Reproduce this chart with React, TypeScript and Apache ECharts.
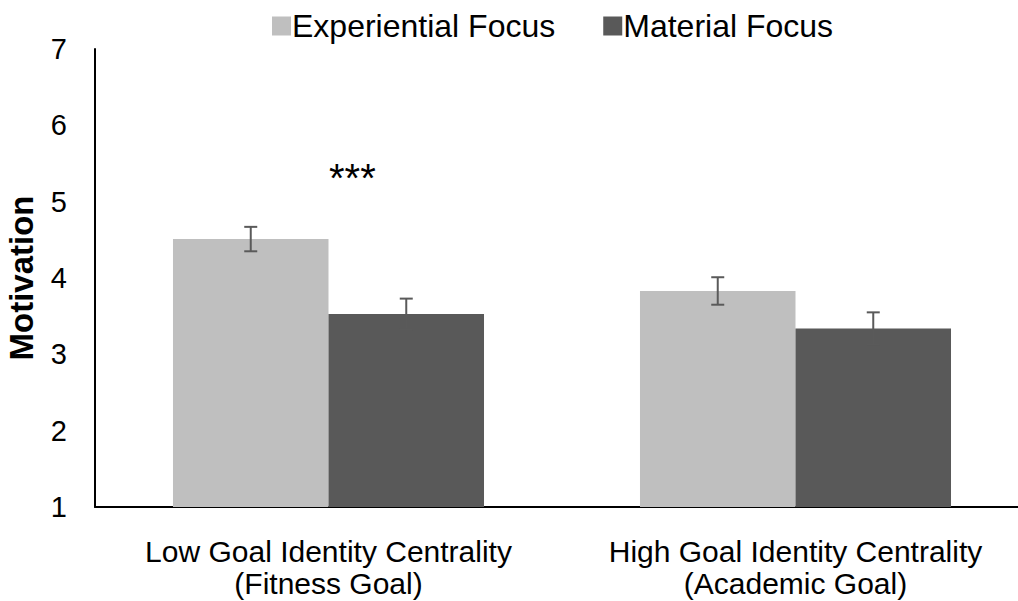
import React, { useEffect, useRef } from "react";
import * as echarts from "echarts";

const categories = [
  "Low Goal Identity Centrality\n(Fitness Goal)",
  "High Goal Identity Centrality\n(Academic Goal)",
];
const seriesNames = ["Experiential Focus", "Material Focus"];
const experiential = [4.51, 3.83];
const material = [3.53, 3.34];
const experientialErr = [0.16, 0.18];
const materialErr = [0.2, 0.21];
const yTicks = [1, 2, 3, 4, 5, 6, 7];
const significance = "***";

const FONT = "Liberation Sans";
const BAR_GAP_CAT = 0.334;

export default function App() {
  const ref = useRef<HTMLDivElement>(null);
  useEffect(() => {
    if (!ref.current) return;
    const chart = echarts.init(ref.current, null, { renderer: "svg" });
    const errData: number[][] = [];
    experiential.forEach((v, i) => errData.push([i, v, experientialErr[i], -1]));
    material.forEach((v, i) => errData.push([i, v, materialErr[i], 1]));
    const barFrac = (1 - BAR_GAP_CAT) / 4;
    chart.setOption({
      animation: false,
      textStyle: { fontFamily: FONT },
      legend: {
        top: 5,
        left: 267,
        itemWidth: 19,
        itemHeight: 19,
        itemGap: 48,
        icon: "rect",
        textStyle: { fontSize: 32, color: "#000", fontFamily: FONT, padding: [0, 0, 0, -4] },
        data: seriesNames,
      },
      grid: {
        left: 95,
        top: 49,
        height: 458,
        width: 934,
        containLabel: false,
        outerBoundsMode: "none",
      },
      xAxis: {
        type: "category",
        data: categories,
        axisLine: { lineStyle: { color: "#000", width: 2 } },
        axisTick: { show: false },
        axisLabel: {
          fontSize: 30,
          color: "#000",
          fontFamily: FONT,
          lineHeight: 32,
          margin: 28,
          interval: 0,
        },
      },
      yAxis: {
        type: "value",
        min: yTicks[0],
        max: yTicks[yTicks.length - 1],
        interval: 1,
        name: "Motivation",
        nameLocation: "middle",
        nameGap: 57,
        nameTextStyle: { fontSize: 33, fontWeight: "bold", color: "#000", fontFamily: FONT },
        axisLine: { show: true, lineStyle: { color: "#000", width: 2 } },
        axisTick: { show: false },
        splitLine: { show: false },
        axisLabel: { fontSize: 29, color: "#000", fontFamily: FONT, margin: 28 },
      },
      series: [
        {
          name: seriesNames[0],
          type: "bar",
          data: experiential,
          itemStyle: { color: "#BFBFBF" },
          barGap: "0%",
          barCategoryGap: BAR_GAP_CAT * 100 + "%",
        },
        {
          name: seriesNames[1],
          type: "bar",
          data: material,
          itemStyle: { color: "#595959" },
          barGap: "0%",
          barCategoryGap: BAR_GAP_CAT * 100 + "%",
        },
        {
          type: "custom",
          data: errData,
          encode: { x: 0, y: 1 },
          z: 10,
          renderItem: (params: any, api: any) => {
            const cat = api.value(0);
            const v = api.value(1);
            const e = api.value(2);
            const side = api.value(3);
            const band = api.size([1, 0])[0];
            const off = side * band * barFrac;
            const top = api.coord([cat, v + e]);
            const bot = api.coord([cat, v - e]);
            const x = top[0] + off;
            const cap = 6.5;
            const style = { stroke: "#5A5A5A", lineWidth: 2 };
            return {
              type: "group",
              children: [
                { type: "line", shape: { x1: x, y1: top[1], x2: x, y2: bot[1] }, style },
                { type: "line", shape: { x1: x - cap, y1: top[1], x2: x + cap, y2: top[1] }, style },
                { type: "line", shape: { x1: x - cap, y1: bot[1], x2: x + cap, y2: bot[1] }, style },
              ],
            };
          },
        },
      ],
      graphic: [
        {
          type: "text",
          x: 329,
          y: 178,
          style: {
            text: significance,
            fontSize: 40,
            fill: "#000",
            fontFamily: FONT,
            verticalAlign: "middle",
            align: "left",
          },
        },
      ],
    });
    return () => chart.dispose();
  }, []);
  return (
    <div
      ref={ref}
      style={{ position: "fixed", left: 0, top: 0, width: 1018, height: 601, background: "#fff" }}
    />
  );
}
